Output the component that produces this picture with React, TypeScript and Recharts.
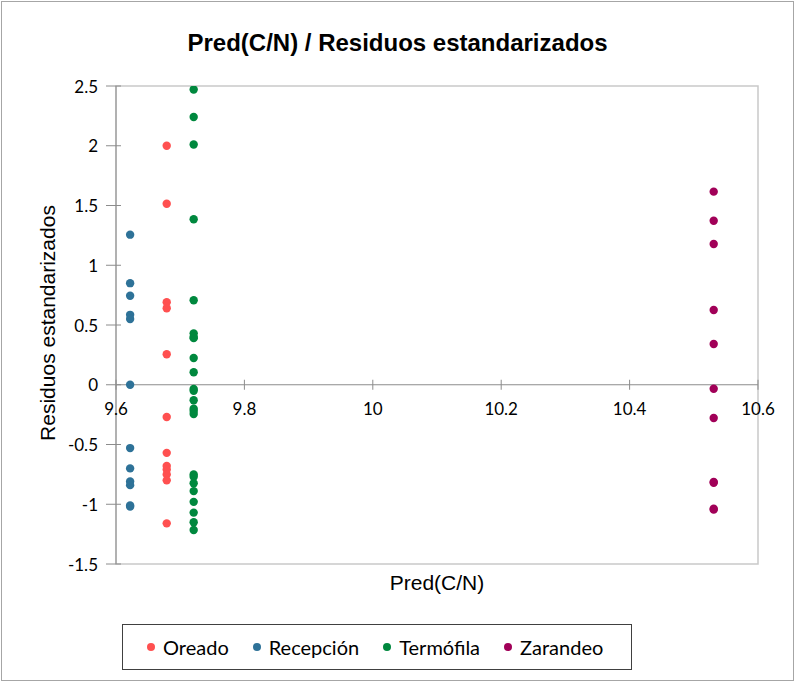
import React from "react";
import {
  ScatterChart,
  Scatter,
  XAxis,
  YAxis,
  ReferenceLine,
  ReferenceArea,
  ReferenceDot,
} from "recharts";

// ---- data ----
const seriesNames = ["Oreado", "Recepción", "Termófila", "Zarandeo"];
const seriesColors = ["#FF5050", "#2E7298", "#00883E", "#A10058"];

const oreadoX = 9.679;
const oreadoY = [2.0, 1.515, 0.69, 0.64, 0.255, -0.27, -0.57, -0.68, -0.71, -0.75, -0.8, -1.16];

const recepcionX = 9.622;
const recepcionY = [1.256, 0.85, 0.745, 0.585, 0.55, 0.0, -0.53, -0.7, -0.81, -0.84, -1.01, -1.02];

const termofilaX = 9.721;
const termofilaY = [
  2.47, 2.24, 2.01, 1.385, 0.707, 0.43, 0.4, 0.39, 0.224, 0.104, -0.036, -0.05, -0.13, -0.2,
  -0.22, -0.245, -0.75, -0.77, -0.825, -0.89, -0.98, -1.07, -1.15, -1.215,
];

const zarandeoX = 10.531;
const zarandeoY = [1.616, 1.373, 1.178, 0.626, 0.341, -0.033, -0.278, -0.814, -0.82, -1.037, -1.045];

const xTicks = [9.6, 9.8, 10, 10.2, 10.4, 10.6];
const yTicks = [-1.5, -1, -0.5, 0, 0.5, 1, 1.5, 2, 2.5];
const xDomain: [number, number] = [9.6, 10.6];
const yDomain: [number, number] = [-1.5, 2.5];

const title = "Pred(C/N) / Residuos estandarizados";
const xLabel = "Pred(C/N)";
const yLabel = "Residuos estandarizados";

const toPoints = (x: number, ys: number[]) => ys.map((y) => ({ x, y }));
const seriesData = [
  toPoints(oreadoX, oreadoY),
  toPoints(recepcionX, recepcionY),
  toPoints(termofilaX, termofilaY),
  toPoints(zarandeoX, zarandeoY),
];

const AXIS_COLOR = "#8c8c8c";
const TICK_FONT = "Lato, 'Noto Sans', sans-serif";

const YTick = (props: any) => {
  const { x, y, payload } = props;
  return (
    <g>
      <line x1={x - 10} x2={x + 5} y1={y} y2={y} stroke={AXIS_COLOR} strokeWidth={1} />
      <text
        x={x - 18}
        y={y}
        textAnchor="end"
        dominantBaseline="central"
        fontFamily={TICK_FONT}
        fontSize={17}
        fill="#000"
      >
        {payload.value}
      </text>
    </g>
  );
};

const XTickShape = (label: string) => (props: any) => {
  const { cx, cy } = props;
  return (
    <g>
      <line x1={cx} x2={cx} y1={cy - 5} y2={cy + 5} stroke={AXIS_COLOR} strokeWidth={1} />
      <text
        x={cx}
        y={cy + 24}
        textAnchor="middle"
        dominantBaseline="central"
        fontFamily={TICK_FONT}
        fontSize={17}
        fill="#000"
      >
        {label}
      </text>
    </g>
  );
};

const dotShape = (color: string) => (props: any) => (
  <circle cx={props.cx} cy={props.cy} r={4.2} fill={color} />
);

export default function App() {
  return (
    <div
      style={{
        position: "absolute",
        left: 0,
        top: 0,
        width: 795,
        height: 682,
        background: "#fff",
      }}
    >
      <div
        style={{
          position: "absolute",
          left: 1,
          top: 1,
          width: 791,
          height: 678,
          border: "1px solid #a6a6a6",
        }}
      />
      <ScatterChart
        width={795}
        height={682}
        margin={{ top: 86, right: 37, bottom: 118, left: 0 }}
        style={{ position: "absolute", left: 0, top: 0 }}
      >
        <XAxis
          type="number"
          dataKey="x"
          domain={xDomain}
          ticks={xTicks}
          allowDataOverflow
          hide
        />
        <YAxis
          type="number"
          dataKey="y"
          domain={yDomain}
          ticks={yTicks}
          width={116}
          allowDataOverflow
          axisLine={{ stroke: AXIS_COLOR }}
          tickLine={false}
          tickSize={0}
          tickMargin={0}
          tick={<YTick />}
          interval={0}
        />
        <ReferenceArea
          x1={xDomain[0]}
          x2={xDomain[1]}
          y1={yDomain[0]}
          y2={yDomain[1]}
          fill="none"
          stroke="#c9c9c9"
          strokeWidth={1.5}
          ifOverflow="visible"
        />
        <ReferenceLine y={0} stroke={AXIS_COLOR} strokeWidth={1} />
        {xTicks.map((t) => (
          <ReferenceDot
            key={t}
            x={t}
            y={0}
            ifOverflow="visible"
            shape={XTickShape(String(t))}
          />
        ))}
        {seriesData.map((d, i) => (
          <Scatter
            key={seriesNames[i]}
            name={seriesNames[i]}
            data={d}
            fill={seriesColors[i]}
            shape={dotShape(seriesColors[i])}
            isAnimationActive={false}
          />
        ))}
      </ScatterChart>

      {/* Title */}
      <div
        style={{
          position: "absolute",
          left: 0,
          width: 795,
          top: 27,
          textAlign: "center",
          fontFamily: "'Liberation Sans', Arial, sans-serif",
          fontWeight: "bold",
          fontSize: 24,
          lineHeight: "32px",
          color: "#000",
        }}
      >
        {title}
      </div>

      {/* X label */}
      <div
        style={{
          position: "absolute",
          left: 116,
          width: 642,
          top: 569,
          textAlign: "center",
          fontFamily: "'Liberation Sans', Arial, sans-serif",
          fontSize: 21,
          lineHeight: "28px",
          color: "#000",
        }}
      >
        {xLabel}
      </div>

      {/* Y label */}
      <div
        style={{
          position: "absolute",
          left: 48,
          top: 323,
          transform: "translate(-50%, -50%) rotate(-90deg)",
          whiteSpace: "nowrap",
          fontFamily: "'Liberation Sans', Arial, sans-serif",
          fontSize: 21,
          lineHeight: "26px",
          color: "#000",
        }}
      >
        {yLabel}
      </div>

      {/* Legend */}
      <div
        style={{
          position: "absolute",
          left: 122,
          top: 624,
          width: 484,
          height: 44,
          border: "1px solid #404040",
          display: "flex",
          alignItems: "center",
          paddingLeft: 24,
          boxSizing: "content-box",
          fontFamily: TICK_FONT,
          fontSize: 20,
          color: "#000",
        }}
      >
        {seriesNames.map((n, i) => (
          <div
            key={n}
            style={{ display: "flex", alignItems: "center", marginRight: 24 }}
          >
            <span
              style={{
                display: "inline-block",
                width: 8,
                height: 8,
                borderRadius: 4,
                background: seriesColors[i],
                marginRight: 8,
              }}
            />
            <span>{n}</span>
          </div>
        ))}
      </div>
    </div>
  );
}
